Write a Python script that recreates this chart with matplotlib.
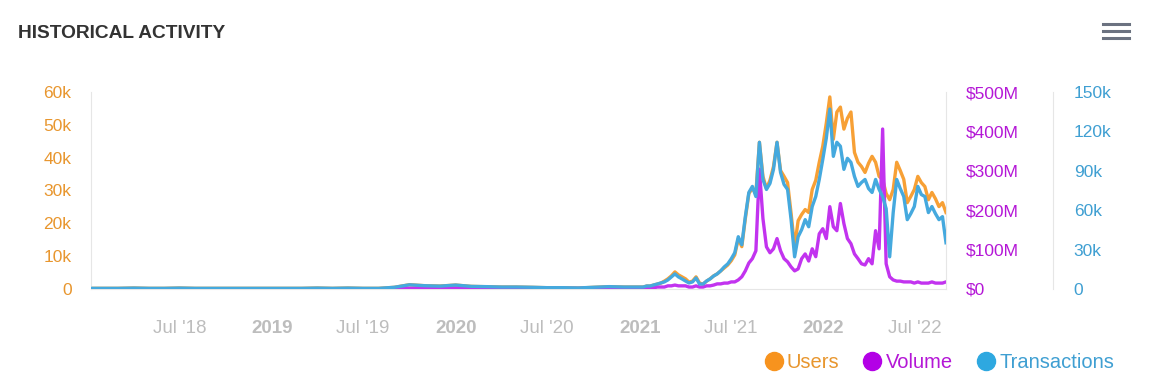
import numpy as np
import pandas as pd
import matplotlib
matplotlib.use('Agg')
import matplotlib.pyplot as plt
from matplotlib.lines import Line2D
from matplotlib.ticker import FuncFormatter

plt.rcParams['font.family'] = ['Liberation Sans', 'DejaVu Sans']

# monthly values 2018-2020, weekly values from Jan 2021
users_early = [0.2, 0.2, 0.2, 0.3, 0.2, 0.2, 0.3, 0.2, 0.2, 0.2, 0.2, 0.2,
               0.2, 0.2, 0.2, 0.3, 0.2, 0.3, 0.2, 0.2, 0.5, 1.3, 1.0, 0.9,
               1.2, 0.8, 0.7, 0.6, 0.6, 0.5, 0.4, 0.4, 0.3, 0.5, 0.7, 0.6]
tx_early = [0.5, 0.5, 0.5, 0.7, 0.5, 0.5, 0.7, 0.5, 0.5, 0.5, 0.5, 0.5,
            0.5, 0.5, 0.5, 0.7, 0.5, 0.7, 0.5, 0.5, 1.3, 3.2, 2.5, 2.2,
            3.0, 2.0, 1.8, 1.5, 1.5, 1.3, 1.0, 1.0, 0.8, 1.3, 1.8, 1.5]
vol_early = [0.5, 0.5, 0.5, 0.5, 0.5, 0.5, 0.5, 0.5, 0.5, 0.5, 0.5, 0.5,
             0.5, 0.5, 0.5, 0.5, 0.5, 0.5, 0.5, 0.5, 1.0, 2.0, 2.5, 2.0,
             2.5, 2.0, 2.0, 1.5, 1.5, 1.5, 1.5, 1.5, 1.5, 2.0, 2.0, 2.0]

users_k = [0.6, 0.6, 0.9, 0.9, 1.2, 1.5, 1.8, 2.4, 3.1, 4.0, 5.2, 4.3, 3.7, 3.1, 2.1,
           2.4, 3.7, 1.8, 1.5, 2.4, 3.1, 4.0, 4.6, 5.5, 6.4, 7.3, 8.6, 10.4, 15.3, 12.9,
           21.4, 29.1, 30.6, 29.1, 44.7, 34.3, 30.6, 33.1, 37.3, 44.7, 36.1, 34.3, 32.4, 23.0,
           12.9, 20.8, 22.7, 24.2, 23.3, 30.3, 33.1, 38.6, 43.5, 50.5, 58.5, 45.6, 53.9, 55.4,
           48.7, 52.0, 53.9, 41.6, 38.6, 37.3, 35.5, 38.3, 40.4, 38.6, 34.3, 33.4, 29.1, 27.2,
           30.3, 38.6, 36.1, 33.4, 26.3, 28.2, 30.3, 34.3, 32.4, 31.2, 27.2, 29.4, 27.5, 25.1,
           26.3, 23.3]
tx_k = [1.5, 1.5, 2.3, 2.3, 3.1, 3.8, 4.6, 5.4, 6.9, 9.2, 11.5, 9.2, 7.7, 6.1, 4.6,
        5.4, 8.4, 3.8, 3.8, 6.1, 7.7, 9.9, 11.5, 13.8, 16.8, 19.1, 23.0, 27.6, 39.8, 33.7,
        55.1, 73.5, 78.1, 70.4, 111.7, 83.4, 75.8, 80.4, 91.1, 111.7, 88.8, 79.6, 75.8, 52.8,
        24.5, 39.8, 45.2, 52.8, 47.4, 62.8, 70.4, 83.4, 98.7, 114.8, 137.0, 101.0, 111.7, 108.7,
        91.1, 99.5, 96.4, 85.7, 78.1, 81.1, 83.4, 76.5, 73.5, 83.4, 75.8, 70.4, 61.2, 24.5,
        58.2, 83.4, 76.5, 70.4, 52.8, 57.4, 62.8, 78.1, 71.9, 70.4, 58.2, 62.8, 57.4, 52.8,
        55.1, 35.2]
vol_m = [3, 3, 3, 3, 3, 5, 5, 5, 8, 8, 10, 8, 8, 8, 5,
         5, 8, 5, 5, 8, 8, 10, 13, 13, 15, 15, 18, 18, 23, 31,
         46, 66, 77, 97, 304, 179, 107, 92, 102, 128, 97, 77, 69, 56,
         46, 51, 77, 89, 71, 102, 82, 140, 153, 128, 209, 158, 148, 217,
         166, 128, 115, 89, 77, 64, 61, 77, 64, 148, 102, 406, 64, 31,
         23, 20, 20, 18, 18, 18, 15, 18, 15, 15, 15, 18, 15, 15,
         15, 18]

dates = pd.date_range('2018-01-01', periods=len(users_early), freq='MS').append(
    pd.date_range('2021-01-01', periods=len(users_k), freq='7D'))
users = np.array(users_early + users_k) * 1000
tx = np.array(tx_early + tx_k) * 1000
vol = np.array(vol_early + vol_m) * 1e6

c_users = '#f7a035'
c_vol = '#c233ef'
c_tx = '#45a9de'
t_users = '#e8962e'
t_vol = '#b417d6'
t_tx = '#3f9fd2'
axis_col = '#e6e6e6'

fig = plt.figure(figsize=(11.64, 3.88), dpi=100)
ax = fig.add_axes([91 / 1164, 1 - 289 / 388, (946 - 91) / 1164, (289 - 92) / 388])
ax2 = ax.twinx()
ax3 = ax.twinx()
ax3.spines['right'].set_position(('outward', 107 * 0.72))

ax.plot(dates, users, color=c_users, lw=2.4, zorder=1)
ax2.plot(dates, vol, color=c_vol, lw=2.4)
ax3.plot(dates, tx, color=c_tx, lw=2.4)

ax.set_ylim(0, 60000)
ax2.set_ylim(0, 500e6)
ax3.set_ylim(0, 150000)
ax.set_yticks(np.arange(0, 60001, 10000))
ax2.set_yticks(np.arange(0, 500e6 + 1, 100e6))
ax3.set_yticks(np.arange(0, 150001, 30000))
ax.yaxis.set_major_formatter(FuncFormatter(lambda v, p: '0' if v == 0 else f'{int(v / 1000)}k'))
ax2.yaxis.set_major_formatter(FuncFormatter(lambda v, p: '$0' if v == 0 else f'${int(v / 1e6)}M'))
ax3.yaxis.set_major_formatter(FuncFormatter(lambda v, p: '0' if v == 0 else f'{int(v / 1000)}k'))

for a in (ax, ax2, ax3):
    for s in a.spines.values():
        s.set_visible(False)
ax.spines['left'].set_visible(True)
ax.spines['left'].set_color(axis_col)
ax.spines['bottom'].set_visible(True)
ax.spines['bottom'].set_color(axis_col)
ax2.spines['right'].set_visible(True)
ax2.spines['right'].set_color(axis_col)
ax3.spines['right'].set_visible(True)
ax3.spines['right'].set_color(axis_col)

ax.tick_params(axis='y', length=0, pad=14, labelsize=12.5, labelcolor=t_users)
ax2.tick_params(axis='y', length=0, pad=14, labelsize=12.5, labelcolor=t_vol)
ax3.tick_params(axis='y', length=0, pad=15, labelsize=12.5, labelcolor=t_tx)

ax.set_xlim(pd.Timestamp('2018-01-06'), pd.Timestamp('2022-09-02'))
xt = pd.to_datetime(['2018-07-01', '2019-01-01', '2019-07-01', '2020-01-01', '2020-07-01',
                     '2021-01-01', '2021-07-01', '2022-01-01', '2022-07-01'])
xl = ["Jul '18", '2019', "Jul '19", '2020', "Jul '20", '2021', "Jul '21", '2022', "Jul '22"]
ax.set_xticks(xt)
ax.set_xticklabels(xl)
ax.tick_params(axis='x', length=0, pad=22, labelsize=13.5, labelcolor='#bdbdbd')
for lab in ax.get_xticklabels():
    if not lab.get_text().startswith('Jul'):
        lab.set_fontweight('bold')

fig.text(18 / 1164, 1 - 33 / 388, 'HISTORICAL ACTIVITY', fontsize=13.8, fontweight='bold',
         color='#333333', va='center', ha='left')

# hamburger menu icon
for yy in (24, 31, 38):
    fig.add_artist(Line2D([1103 / 1164, 1129 / 1164], [1 - yy / 388] * 2, color='#6b7280', lw=2.2))

handles = [Line2D([], [], marker='o', ls='', markersize=13, color=c) for c in ('#f7931e', '#b300e6', '#2ea8e0')]
leg = fig.legend(handles, ['Users', 'Volume', 'Transactions'], loc='center right',
                 bbox_to_anchor=(1132 / 1164, 1 - 363 / 388), ncol=3, frameon=False,
                 fontsize=14.5, handletextpad=0.0, columnspacing=1.0, handlelength=1.3)
for t, c in zip(leg.get_texts(), (t_users, t_vol, t_tx)):
    t.set_color(c)

fig.savefig('out.png', dpi=100)
